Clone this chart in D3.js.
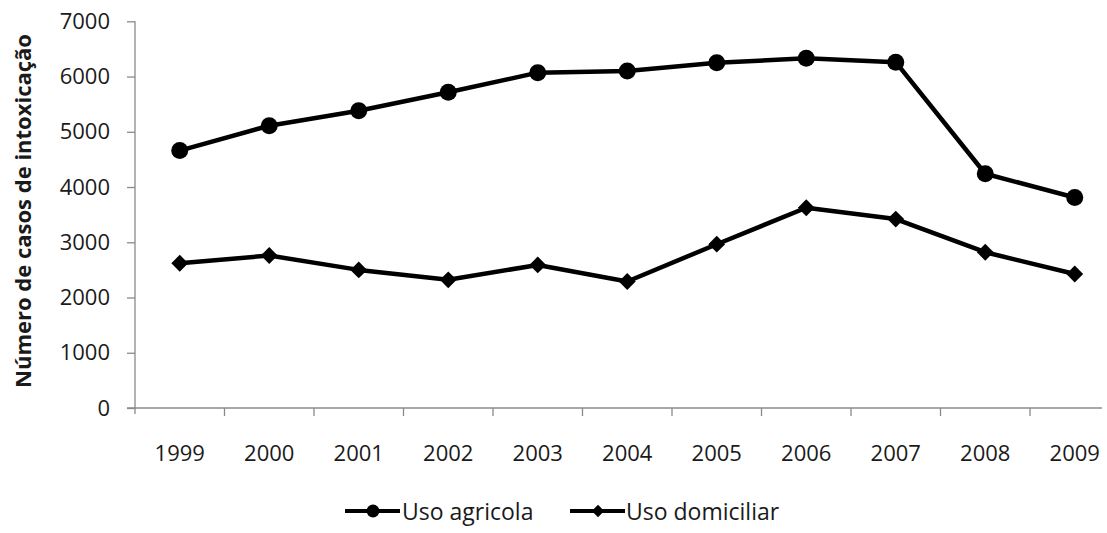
<!DOCTYPE html>
<html>
<head>
<meta charset="utf-8">
<script src="https://cdn.jsdelivr.net/npm/d3@7"></script>
<style>
  html, body { margin: 0; padding: 0; background: #fff; }
  svg { display: block; }
  text { font-family: "Open Sans", "Noto Sans", sans-serif; fill: #1a1a1a; }
</style>
</head>
<body>
<svg id="chart" width="1107" height="533"></svg>
<script>
const years = ["1999","2000","2001","2002","2003","2004","2005","2006","2007","2008","2009"];
const agricola = [4660, 5110, 5380, 5715, 6070, 6100, 6250, 6330, 6260, 4240, 3810];
const domiciliar = [2620, 2760, 2500, 2320, 2590, 2290, 2965, 3625, 3420, 2820, 2425];
const yTicks = [0, 1000, 2000, 3000, 4000, 5000, 6000, 7000];
const seriesNames = ["Uso agricola", "Uso domiciliar"];
const yTitle = "Número de casos de intoxicação";

const svg = d3.select("#chart");
const x0 = 135, step = 89.5;
const x = d3.scaleBand().domain(years).range([x0, x0 + step * years.length]).paddingInner(0).paddingOuter(0);
const y = d3.scaleLinear().domain([0, 7000]).range([408, 21.3]);
const axisColor = "#8a8a8a";

// Y axis
const yAxis = svg.append("g").attr("transform", `translate(${x0},0)`)
  .call(d3.axisLeft(y).tickValues(yTicks).tickSize(8).tickPadding(17).tickFormat(d3.format("d")));
yAxis.select(".domain").attr("stroke", axisColor).attr("stroke-width", 1.3).attr("d", `M0,${y(7000)}V414`);
yAxis.selectAll(".tick line").attr("stroke", axisColor).attr("stroke-width", 1.3);
yAxis.selectAll(".tick text").style("font-size", "22px").attr("fill", "#1a1a1a");

// X axis
const xg = svg.append("g");
xg.append("line").attr("x1", 127).attr("x2", 1102).attr("y1", y(0)).attr("y2", y(0))
  .attr("stroke", axisColor).attr("stroke-width", 1.3);
years.slice(1).forEach(yr => {
  const bx = x(yr);
  xg.append("line").attr("x1", bx).attr("x2", bx).attr("y1", y(0)).attr("y2", y(0) + 8)
    .attr("stroke", axisColor).attr("stroke-width", 1.3);
});
years.forEach(yr => {
  xg.append("text").attr("x", x(yr) + x.bandwidth() / 2).attr("y", 452)
    .attr("text-anchor", "middle").attr("dominant-baseline", "central")
    .style("font-size", "22px").text(yr);
});

// Y title
svg.append("text").attr("transform", "translate(22,211) rotate(-90)")
  .attr("text-anchor", "middle").attr("dominant-baseline", "central")
  .style("font-size", "22px").style("font-weight", "bold").text(yTitle);

const cx = d => x(d) + x.bandwidth() / 2;
const line = d3.line().x((d, i) => cx(years[i])).y(d => y(d));

// Series lines
svg.append("path").datum(agricola).attr("d", line).attr("fill", "none")
  .attr("stroke", "#000").attr("stroke-width", 4.5).attr("stroke-linejoin", "round");
svg.append("path").datum(domiciliar).attr("d", line).attr("fill", "none")
  .attr("stroke", "#000").attr("stroke-width", 4.5).attr("stroke-linejoin", "round");

// Markers
const circ = d3.symbol().type(d3.symbolCircle).size(Math.PI * 8.5 * 8.5);
const diam = d3.symbol().type(d3.symbolDiamond2).size(2 * 9.5 * 9.5);
svg.selectAll(".mA").data(agricola).join("path")
  .attr("d", circ).attr("transform", (d, i) => `translate(${cx(years[i])},${y(d)})`).attr("fill", "#000");
svg.selectAll(".mD").data(domiciliar).join("path")
  .attr("d", diam).attr("transform", (d, i) => `translate(${cx(years[i])},${y(d)})`).attr("fill", "#000");

// Legend
const leg = svg.append("g");
const legY = 511;
const legItems = [
  { name: seriesNames[0], x1: 345, sym: d3.symbol().type(d3.symbolCircle).size(Math.PI * 6.5 * 6.5), tx: 402 },
  { name: seriesNames[1], x1: 570, sym: d3.symbol().type(d3.symbolDiamond2).size(2 * 7 * 7), tx: 626 }
];
legItems.forEach(it => {
  leg.append("line").attr("x1", it.x1).attr("x2", it.x1 + 55).attr("y1", legY).attr("y2", legY)
    .attr("stroke", "#000").attr("stroke-width", 4);
  leg.append("path").attr("d", it.sym).attr("transform", `translate(${it.x1 + 28},${legY})`).attr("fill", "#000");
  leg.append("text").attr("x", it.tx).attr("y", legY).attr("dominant-baseline", "central")
    .style("font-size", "23px").text(it.name);
});
</script>
</body>
</html>
